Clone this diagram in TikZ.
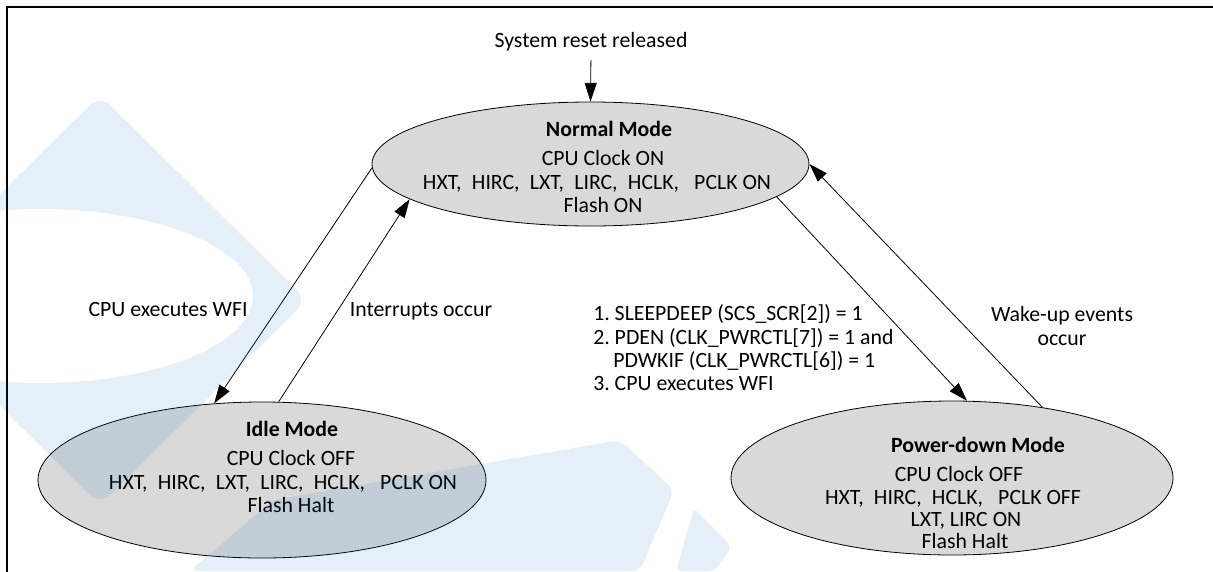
\documentclass[tikz,border=0pt]{standalone}
\usepackage{fontspec}
\setmainfont{Carlito}
\usetikzlibrary{arrows.meta,shapes.geometric}
\definecolor{modegray}{RGB}{217,217,217}
\definecolor{wmblue}{RGB}{0,100,190}
\newcommand\fc{,\hspace{0.47em}}
\frenchspacing
\begin{document}
\begin{tikzpicture}[x=0.75pt,y=-0.75pt,
  modebox/.style={ellipse,draw=black,line width=0.6pt,fill=modegray,inner sep=0pt},
  txt/.style={inner sep=0pt,anchor=base,font=\fontsize{16.35}{19}\selectfont},
  ltxt/.style={txt,anchor=base west},
  conn/.style={draw=black,line width=0.6pt,-{Triangle[length=14pt,width=9pt]}},
  frameline/.style={line width=1.6pt,line cap=rect},
  wm/.style={fill=wmblue,fill opacity=0.1,draw=none}]
\useasboundingbox (0,0) rectangle (1213,571);
% frame
\draw[frameline] (7,575) -- (7,7) -- (1216,7);
% states
\node[modebox,minimum width=327.75pt,minimum height=93pt] (normal) at (590.5,164) {};
\node[modebox,minimum width=336pt,minimum height=117pt] (idle) at (262,480) {};
\node[modebox,minimum width=331.5pt,minimum height=115.5pt] (pd) at (952,478) {};
% normal text
\node[txt] (nt1) at (609,136) {\bfseries Normal Mode};
\node[txt] (nt2) at (603,165) {CPU Clock ON};
\node[txt] (nt3) at (597,189) {HXT\fc HIRC\fc LXT\fc LIRC\fc HCLK\fc\ PCLK ON};
\node[txt] (nt4) at (603,212) {Flash ON};
% idle text
\node[txt] (it1) at (292,436) {\bfseries Idle Mode};
\node[txt] (it2) at (291,465) {CPU Clock OFF};
\node[txt] (it3) at (283,489) {HXT\fc HIRC\fc LXT\fc LIRC\fc HCLK\fc\ PCLK ON};
\node[txt] (it4) at (291,512) {Flash Halt};
% power-down text
\node[txt] (pt1) at (978,452) {\bfseries Power-down Mode};
\node[txt] (pt2) at (959,481) {CPU Clock OFF};
\node[txt] (pt3) at (953,504) {HXT\fc HIRC\fc HCLK\fc\ PCLK OFF};
\node[txt] (pt4) at (966,526) {LXT, LIRC ON};
\node[txt] (pt5) at (965,548) {Flash Halt};
% labels
\node[txt] (reset) at (591,47) {System reset released};
\node[txt] (wfi) at (168,316) {CPU executes WFI};
\node[txt] (intr) at (421,316) {Interrupts occur};
\node[ltxt] (s1) at (593,320) {1. SLEEPDEEP (SCS\_SCR[2]) = 1};
\node[ltxt] (s2) at (593,344) {2. PDEN (CLK\_PWRCTL[7]) = 1 and};
\node[ltxt] (s3) at (613,367) {PDWKIF (CLK\_PWRCTL[6]) = 1};
\node[ltxt] (s4) at (593,390) {3. CPU executes WFI};
\node[txt] (wake1) at (1062,321) {Wake-up events};
\node[txt] (wake2) at (1062,345) {occur};
% connectors
\draw[conn,shorten <=7pt] (reset.south) -- (normal.north);
\draw[conn] (normal.181) -- (idle.122.7);
\draw[conn] (idle.78.4) -- (normal.191.9);
\draw[conn] (normal.350.8) -- (pd.79.7);
\draw[conn] (pd.38.8) -- (normal.0);
% watermark
\begin{scope}
\clip (0,0) rectangle (1213,571);
\fill[wm,even odd rule,rounded corners=11pt] (100,95) -- (307,300) -- (100,505) -- (-107,300) -- cycle
  (40,296) ellipse [x radius=159.75pt, y radius=65.25pt];
\fill[wm,rounded corners=6pt] (273,500) -- (620,440) -- (674,490) -- (640,571) -- (190,571) -- cycle;
\fill[wm,rounded corners=4pt] (694,508) -- (732,547) -- (714,571) -- (676,571) -- cycle;
\end{scope}
\end{tikzpicture}
\end{document}
